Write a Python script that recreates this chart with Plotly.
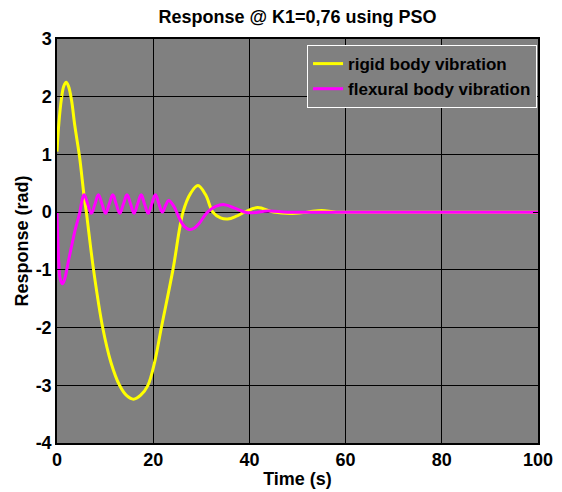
import plotly.graph_objects as go

# ---- data ----
t_rigid = [0, 0.4, 0.9, 1.4, 1.9, 2.4, 3.0, 3.7, 4.7, 5.6, 6.1, 7.6, 9.5, 11.2, 13.0, 14.5,
           15.9, 17.4, 18.9, 20.3, 21.7, 24.1, 26.2, 27.8, 29.3, 30.9, 32.4, 34.0, 35.5,
           37.3, 39.0, 41.7, 45.0, 48.5, 52.0, 55.0, 58.0, 65.0, 100.0]
y_rigid = [1.05, 1.55, 1.95, 2.18, 2.25, 2.18, 1.95, 1.5, 0.95, 0.3, 0.0, -1.0, -2.0, -2.6,
           -3.0, -3.18, -3.24, -3.17, -3.0, -2.6, -2.0, -1.0, 0.0, 0.33, 0.46, 0.3, 0.0,
           -0.1, -0.12, -0.07, 0.0, 0.08, 0.0, -0.025, 0.0, 0.03, 0.0, 0.0, 0.0]

t_flex = [0, 0.15, 0.35, 0.65, 1.1, 1.6, 2.2, 3.0, 3.8, 4.75, 5.2, 5.65,
          6.4, 7.15, 7.9, 8.6, 9.35, 10.1, 10.85, 11.6, 12.3, 13.05, 13.8, 14.55,
          15.3, 16.0, 16.75, 17.5, 18.2, 18.95, 19.7, 20.45, 21.2, 21.9, 22.6, 23.2,
          24.3, 25.5, 26.5, 27.5, 28.5, 29.5, 31.3, 33.0, 34.8, 37.2, 39.7, 44.0, 48.0,
          55.0, 100.0]
y_flex = [0, -0.45, -0.85, -1.15, -1.24, -1.16, -0.92, -0.6, -0.3, 0.0, 0.2, 0.3,
          0.14, -0.02, 0.14, 0.3, 0.14, -0.02, 0.14, 0.3, 0.14, -0.02, 0.14, 0.3,
          0.14, -0.02, 0.14, 0.3, 0.14, -0.02, 0.14, 0.3, 0.14, 0.0, 0.12, 0.2,
          0.1, -0.12, -0.25, -0.3, -0.28, -0.2, 0.0, 0.1, 0.13, 0.06, -0.01, 0.02, 0.0,
          0.0, 0.0]

series_names = ["rigid body vibration", "flexural body vibration"]
x_ticks = [0, 20, 40, 60, 80, 100]
y_ticks = [-4, -3, -2, -1, 0, 1, 2, 3]
y_tick_text = ["-4", "-3", "-2", "-1", "0", "1", "2", "3"]

fig = go.Figure()
fig.add_trace(go.Scatter(x=t_rigid, y=y_rigid, mode="lines", name=series_names[0],
                         line=dict(color="#ffff00", width=3, shape="spline", smoothing=1.0)))
fig.add_trace(go.Scatter(x=t_flex, y=y_flex, mode="lines", name=series_names[1],
                         line=dict(color="#ff00ff", width=3, shape="spline", smoothing=1.2)))

W, H = 562, 492
ML, MR, MT, MB = 57, 24, 39, 49
font_family = "Liberation Sans, Arial, sans-serif"
fig.update_layout(
    width=W, height=H,
    margin=dict(l=ML, r=MR, t=MT, b=MB, autoexpand=False),
    paper_bgcolor="white",
    plot_bgcolor="#808080",
    font=dict(family=font_family, color="black"),
    title=dict(text="<b>Response @ K1=0,76 using PSO</b>",
               x=(ML + (W - MR)) / 2 / W, xanchor="center",
               y=1 - 17 / H, yanchor="middle", font=dict(size=18, color="black")),
    showlegend=True,
    hovermode=False,
    legend=dict(x=0.998, xanchor="right", y=0.985, yanchor="top",
                bgcolor="#808080", bordercolor="white", borderwidth=1,
                font=dict(size=17, color="black", weight="bold"), tracegroupgap=0,
                itemwidth=30),
)
fig.update_xaxes(range=[0, 100], tickvals=x_ticks, automargin=False,
                 showgrid=True, gridcolor="black", gridwidth=1,
                 showline=True, linecolor="black", linewidth=1.5, mirror="ticks",
                 ticks="inside", ticklen=5, tickcolor="black", zeroline=False,
                 tickfont=dict(size=18, family=font_family, color="black", weight="bold"),
                 title=dict(text="<b>Time (s)</b>", font=dict(size=18), standoff=3))
fig.update_yaxes(range=[-4, 3], tickvals=y_ticks, ticktext=y_tick_text, automargin=False,
                 showgrid=True, gridcolor="black", gridwidth=1,
                 showline=True, linecolor="black", linewidth=1.5, mirror="ticks",
                 ticks="inside", ticklen=5, tickcolor="black", zeroline=False,
                 tickfont=dict(size=18, family=font_family, color="black", weight="bold"),
                 title=dict(text="<b>Response (rad)</b>", font=dict(size=18), standoff=2))

# remove the page's default 8px body margin so the figure sits at the window origin
fig.write_html("out.html", config={"displayModeBar": False},
               post_script="document.body.style.margin='0';")
